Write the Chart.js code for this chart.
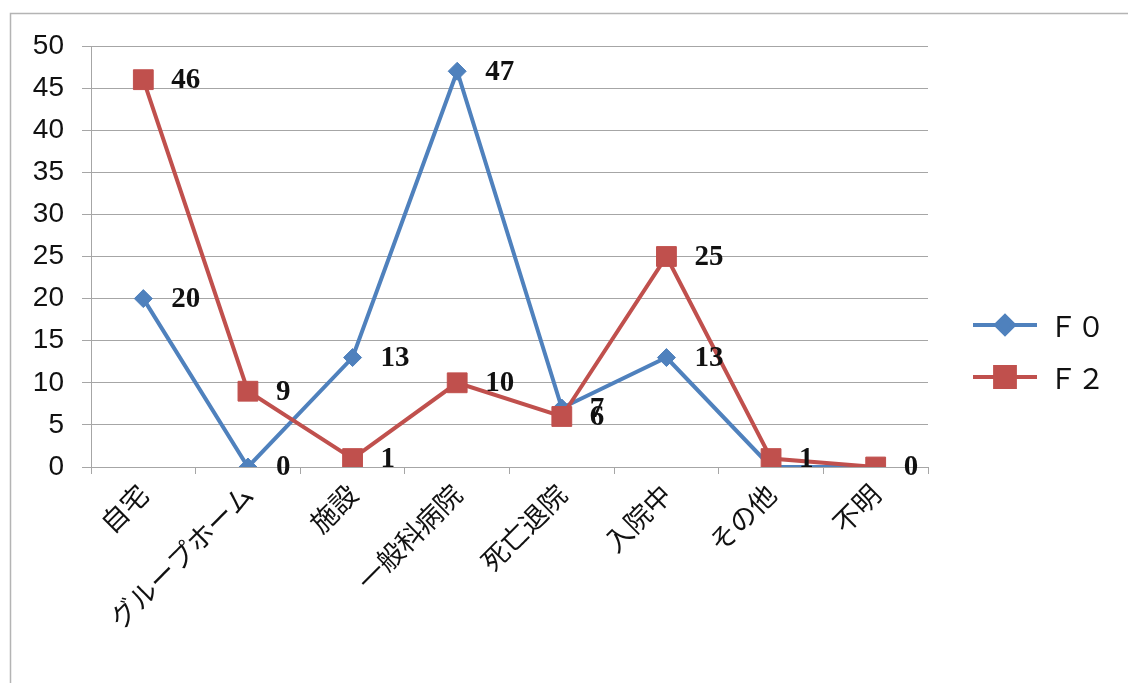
<!DOCTYPE html>
<html>
<head>
<meta charset="utf-8">
<script src="https://cdn.jsdelivr.net/npm/chart.js@4.4.0/dist/chart.umd.min.js"></script>
<style>
  html, body { margin: 0; padding: 0; background: #fff; overflow: hidden; }
  #wrap { width: 1128px; height: 683px; position: relative; }
</style>
</head>
<body>
<div id="wrap"><canvas id="c" width="1128" height="683"></canvas></div>
<script>
// Discharge destinations, counts per group
const categories = ['自宅', 'グループホーム', '施設', '一般科病院', '死亡退院', '入院中', 'その他', '不明'];
const seriesNames = ['Ｆ０', 'Ｆ２'];
const f0Values = [20, 0, 13, 47, 7, 13, 0, 0];
const f2Values = [46, 9, 1, 10, 6, 25, 1, 0];
// which points carry a value label
const f0Labelled = [true, true, true, true, true, true, false, false];
const f2Labelled = [true, true, true, true, true, true, true, true];
const yTickValues = [0, 5, 10, 15, 20, 25, 30, 35, 40, 45, 50];

const BLUE = '#4f81bd';
const RED = '#c0504d';
const GRID = '#a6a6a6';

// light frame around the chart
const framePlugin = {
  id: 'frame',
  beforeDraw(chart) {
    const ctx = chart.ctx;
    ctx.save();
    ctx.fillStyle = '#fff';
    ctx.fillRect(0, 0, chart.width, chart.height);
    ctx.strokeStyle = '#b4b4b4';
    ctx.lineWidth = 1.5;
    ctx.beginPath();
    ctx.moveTo(10.5, chart.height + 5);
    ctx.lineTo(10.5, 13.5);
    ctx.lineTo(chart.width + 5, 13.5);
    ctx.stroke();
    ctx.restore();
  }
};

// numbers printed to the right of each point
const valueLabelPlugin = {
  id: 'valueLabels',
  afterDatasetsDraw(chart) {
    const ctx = chart.ctx;
    ctx.save();
    ctx.font = 'bold 29px "Liberation Serif", "Times New Roman", serif';
    ctx.fillStyle = '#111';
    ctx.textAlign = 'left';
    ctx.textBaseline = 'middle';
    chart.data.datasets.forEach((ds, di) => {
      const meta = chart.getDatasetMeta(di);
      meta.data.forEach((pt, i) => {
        if (!ds.labelled[i]) return;
        ctx.fillText(String(ds.data[i]), pt.x + 28, pt.y + 1);
      });
    });
    ctx.restore();
  }
};

// legend on the right: line segment with marker, then series name
const sideLegendPlugin = {
  id: 'sideLegend',
  afterDraw(chart) {
    const ctx = chart.ctx;
    const x0 = chart.chartArea.right + 45;
    const rows = [325, 377];
    ctx.save();
    chart.data.datasets.forEach((ds, di) => {
      const y = rows[di];
      ctx.strokeStyle = ds.borderColor;
      ctx.lineWidth = ds.borderWidth;
      ctx.beginPath();
      ctx.moveTo(x0, y);
      ctx.lineTo(x0 + 64, y);
      ctx.stroke();
      ctx.fillStyle = ds.pointBackgroundColor;
      ctx.strokeStyle = ds.pointBorderColor;
      Chart.helpers.drawPoint(ctx, {
        pointStyle: ds.pointStyle,
        radius: ds.pointRadius,
        rotation: 0,
        borderWidth: 1
      }, x0 + 32, y);
      ctx.fillStyle = '#111';
      ctx.font = '28px "Noto Sans CJK JP", sans-serif';
      ctx.textAlign = 'left';
      ctx.textBaseline = 'middle';
      ctx.fillText(ds.label, x0 + 76, y + 1);
    });
    ctx.restore();
  }
};

new Chart(document.getElementById('c'), {
  type: 'line',
  data: {
    labels: categories,
    datasets: [
      {
        label: seriesNames[0],
        data: f0Values,
        labelled: f0Labelled,
        borderColor: BLUE,
        borderWidth: 4,
        pointStyle: 'rectRot',
        pointRadius: 9,
        pointBackgroundColor: BLUE,
        pointBorderColor: BLUE,
        pointBorderWidth: 1,
        tension: 0,
        order: 1
      },
      {
        label: seriesNames[1],
        data: f2Values,
        labelled: f2Labelled,
        borderColor: RED,
        borderWidth: 4,
        pointStyle: 'rect',
        pointRadius: 14,
        pointBackgroundColor: RED,
        pointBorderColor: RED,
        pointBorderWidth: 1,
        tension: 0,
        order: 0
      }
    ]
  },
  options: {
    responsive: false,
    animation: false,
    layout: { padding: { top: 46, right: 200, bottom: 0, left: 0 } },
    plugins: {
      legend: { display: false },
      tooltip: { enabled: false }
    },
    scales: {
      x: {
        type: 'category',
        offset: true,
        grid: {
          offset: true,
          drawOnChartArea: false,
          drawTicks: true,
          tickLength: 7,
          color: GRID
        },
        border: { color: GRID, width: 1 },
        ticks: {
          autoSkip: false,
          minRotation: 45,
          maxRotation: 45,
          padding: 4,
          color: '#111',
          font: { family: '"Noto Sans CJK JP", sans-serif', size: 27 }
        },
        afterFit(scale) { scale.height = 216; }
      },
      y: {
        min: 0,
        max: 50,
        afterBuildTicks(scale) {
          scale.ticks = yTickValues.map(v => ({ value: v }));
        },
        grid: { color: GRID, tickLength: 9, lineWidth: 1 },
        border: { color: GRID, width: 1 },
        ticks: {
          padding: 18,
          color: '#111',
          font: { family: '"Liberation Sans", Arial, sans-serif', size: 28 }
        },
        afterFit(scale) { scale.width = 91; }
      }
    }
  },
  plugins: [framePlugin, valueLabelPlugin, sideLegendPlugin]
});
</script>
</body>
</html>
